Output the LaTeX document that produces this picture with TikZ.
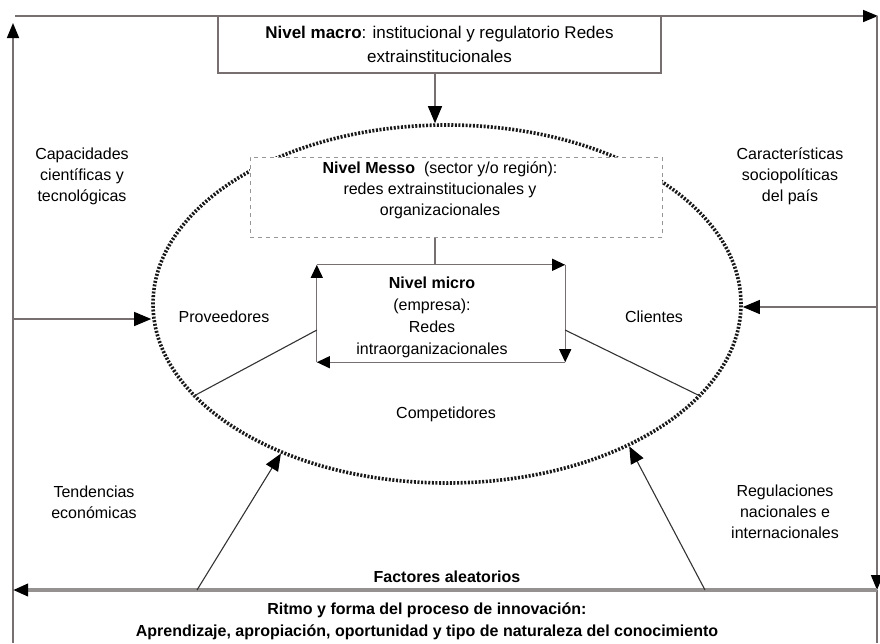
\documentclass[tikz,border=0pt]{standalone}
\usepackage{fontspec}
\setmainfont{Liberation Sans}
\usetikzlibrary{shapes.geometric,arrows.meta,calc}
\definecolor{framecol}{RGB}{120,112,112}
\definecolor{dashcol}{RGB}{150,150,150}
\definecolor{bandcol}{RGB}{150,145,145}

\begin{document}
\begin{tikzpicture}[x=1pt, y=-1pt,
  every node/.style={font=\fontsize{16}{21}\selectfont, align=center, inner sep=0pt},
  boldtxt/.style={font=\fontsize{16}{22}\selectfont\bfseries},
  frame/.style={framecol, line width=1.6pt},
  conn/.style={framecol, line width=1.2pt},
  dark/.style={black!80, line width=1.1pt},
  bigtip/.style={-{Triangle[length=17pt, width=14pt, black]}},
  smalltip/.style={-{Triangle[length=13pt, width=12pt, black]}},
  frtip/.style={-{Triangle[length=15pt, width=12pt, black]}}]

  \useasboundingbox (0,0) rectangle (880,643);

  %% Outer frame: cycle of arrows
  \coordinate (fbl) at (13,643);
  \coordinate (ftl) at (13,16);
  \coordinate (ftr) at (877,16);
  \coordinate (fbr) at (877,643);
  \coordinate (randr) at (877,590);
  \coordinate (randl) at (13,590);
  \draw[frame, frtip] (fbl) -- ($(ftl)+(0,7)$);
  \draw[frame, frtip] ($(ftl)+(2,0)$) -- ($(ftr)+(1,0)$);
  \draw[frame, frtip] (ftr) -- (randr);
  \draw[frame] (randr) -- (fbr);
  \draw[bandcol, line width=3.5pt, frtip] (randr) -- (randl);

  %% Nivel macro
  \node[draw=framecol, line width=1.2pt, minimum width=443pt, minimum height=57pt,
        font=\fontsize{17}{24}\selectfont] (macro) at (439.5,44.5)
    {\textbf{Nivel macro}: institucional y regulatorio Redes\\extrainstitucionales};

  %% Dotted ellipse (mercado)
  \node[ellipse, draw=black!90, line width=3.6pt, dash pattern=on 2pt off 1.6pt,
        minimum width=588pt, minimum height=358pt] (ell) at (447,304) {};

  %% Nivel messo
  \node[draw=dashcol, fill=white, line width=1pt, dash pattern=on 4pt off 4pt,
        minimum width=412pt, minimum height=80pt] (messo) at (456,197) {};
  \node (messotext) at (440,190)
    {\textbf{Nivel Messo}\ \ (sector y/o región):\\redes extrainstitucionales y\\organizacionales};

  %% Nivel micro
  \node[minimum width=248pt, minimum height=97pt] (micro) at (441,313.5) {};
  \node[font=\fontsize{16}{22}\selectfont] (microtext) at (432,317)
    {\textbf{Nivel micro}\\(empresa):\\Redes\\intraorganizacionales};
  \draw[conn, smalltip] (micro.north west) -- (micro.north east);
  \draw[conn, smalltip] (micro.north east) -- (micro.south east);
  \draw[conn, smalltip] (micro.south east) -- (micro.south west);
  \draw[conn, smalltip] (micro.south west) -- (micro.north west);

  %% Vertical links
  \coordinate (mx) at (435,0);
  \draw[conn, bigtip] (macro.south -| mx) -- (ell.north -| mx);
  \draw[conn] (messo.south -| mx) -- (micro.north -| mx);

  %% Micro to market
  \draw[dark] ($(micro.south west)!0.33!(micro.north west)$) -- (ell.200);
  \draw[dark] ($(micro.south east)!0.33!(micro.north east)$) -- (ell.340);

  %% Side inputs
  \coordinate (lin) at (13,319);
  \coordinate (rin) at (877,307);
  \draw[conn, bigtip] (lin) -- (lin -| ell.west);
  \draw[conn, bigtip] (rin) -- (rin -| ell.east);

  %% Inputs from random factors
  \coordinate (randa) at (197,590);
  \coordinate (randb) at (705,590);
  \draw[dark, bigtip] (randa) -- (ell.222);
  \draw[dark, bigtip] (randb) -- (ell.322);

  %% Market actors
  \node (prov) at (224,317) {Proveedores};
  \node (cli) at (654,317) {Clientes};
  \node (comp) at (446,414) {Competidores};

  %% Context
  \node (cap) at (82,176) {Capacidades\\científicas y\\tecnológicas};
  \node (caract) at (790,176) {Características\\sociopolíticas\\del país};
  \node (tend) at (94,502) {Tendencias\\económicas};
  \node (regul) at (785,512) {Regulaciones\\nacionales e\\internacionales};

  %% Bottom band
  \node[boldtxt] (fact) at (447,577) {Factores aleatorios};
  \node[boldtxt] (ritmo) at (427,621)
    {Ritmo y forma del proceso de innovación:\\Aprendizaje, apropiación, oportunidad y tipo de naturaleza del conocimiento};

\end{tikzpicture}
\end{document}
